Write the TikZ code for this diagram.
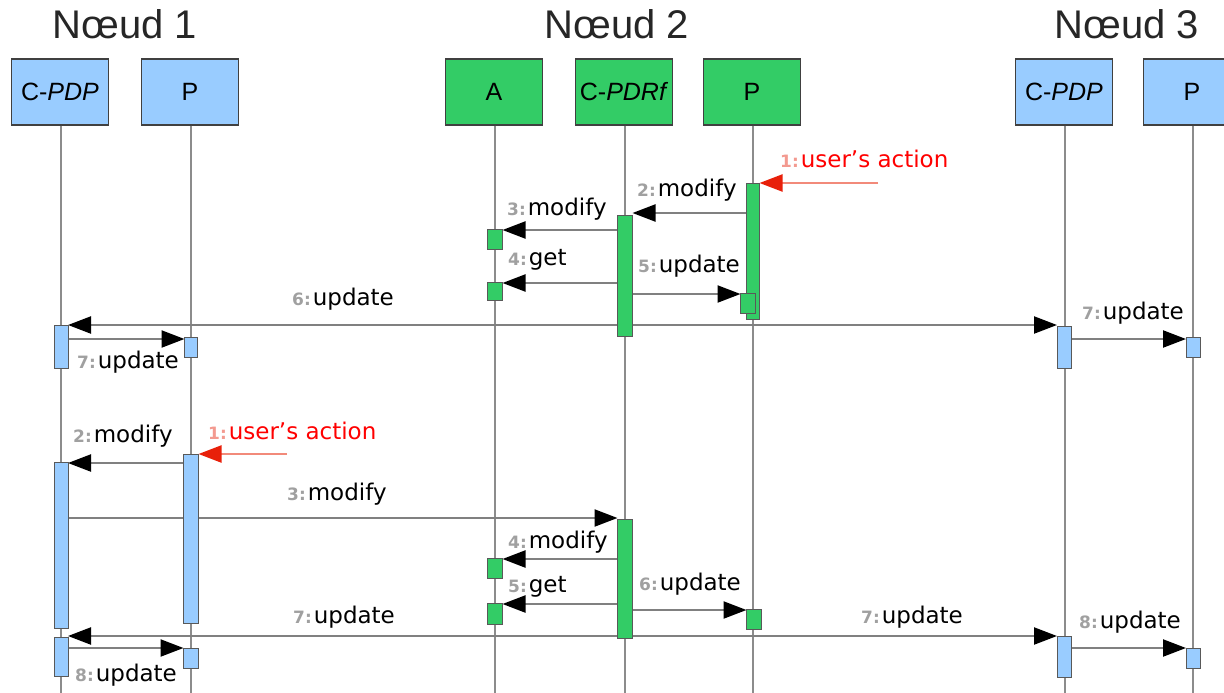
\documentclass[tikz,border=0pt]{standalone}
\usepackage{fontspec}
\setmainfont{DejaVu Sans}
\newfontfamily\arialf{Liberation Sans}
\usetikzlibrary{arrows.meta}
\definecolor{pblue}{HTML}{99CCFF}
\definecolor{pgreen}{HTML}{33CC66}
\definecolor{lline}{HTML}{8C8C8C}
\definecolor{mline}{HTML}{808080}
\definecolor{ured}{HTML}{E8200A}
\definecolor{ulred}{HTML}{F28A7A}
\definecolor{numgray}{HTML}{A0A0A0}
\definecolor{numred}{HTML}{F39A90}
\newcommand\msgnum[2][numgray]{{\fontsize{17}{17}\selectfont\bfseries\textcolor{#1}{#2}}\hspace{2pt}}
\begin{document}
\begin{tikzpicture}[x=1pt,y=-1pt,
  head/.style={draw=black!75, line width=1.3pt, minimum width=97pt, minimum height=66pt, inner sep=0pt, font=\arialf\fontsize{25}{25}\selectfont},
  bluehead/.style={head, fill=pblue},
  greenhead/.style={head, fill=pgreen},
  title/.style={font=\arialf\fontsize{40}{40}\selectfont, anchor=base, inner sep=0pt, text=black!85},
  life/.style={draw=lline, line width=2pt},
  bar/.style={draw=black!65, line width=1pt, minimum width=13pt, inner sep=0pt, anchor=north},
  bbar/.style={bar, fill=pblue},
  gbar/.style={bar, fill=pgreen},
  tip/.style={},
  msg/.style={draw=mline, line width=2.2pt, -{Triangle[length=23pt,width=17pt,color=black]}},
  bimsg/.style={draw=mline, line width=2.2pt, {Triangle[length=23pt,width=17pt,color=black]}-{Triangle[length=23pt,width=17pt,color=black]}},
  usermsg/.style={draw=ulred, line width=2.2pt, -{Triangle[length=23pt,width=17pt,color=ured]}},
  lab/.style={anchor=base west, inner sep=0pt, font=\fontsize{23}{23}\selectfont},
  ulab/.style={lab, text=red}
]
\useasboundingbox (0,0) rectangle (1224,693);
\coordinate (bottom) at (0,693);

% titles
\node[title] (t1) at (125,39) {Nœud 1};
\node[title] (t2) at (617,39) {Nœud 2};
\node[title] (t3) at (1127,39) {Nœud 3};

% heads
\node[bluehead] (h1) at (60,92) {C-\textit{PDP}};
\node[bluehead] (h2) at (190,92) {P};
\node[greenhead] (h3) at (494,92) {A};
\node[greenhead] (h4) at (624,92) {C-\textit{PDRf}};
\node[greenhead] (h5) at (752,92) {P};
\node[bluehead] (h6) at (1064,92) {C-\textit{PDP}};
\node[bluehead] (h7) at (1192,92) {P};

% lifelines
\foreach \h in {h1,h2,h3,h4,h5,h6,h7}
  \draw[life] ([xshift=1pt]\h.south) -- ([xshift=1pt]\h.south |- bottom);

% bars
\path
  node[gbar, minimum width=12pt, minimum height=135pt] (pA) at (753,183) {}
  node[gbar, minimum width=14pt, minimum height=120pt] (cA) at (625,215) {}
  node[gbar, minimum width=14pt, minimum height=19pt] (aA1) at (495,229) {}
  node[gbar, minimum width=14pt, minimum height=17pt] (aA2) at (495,282) {}
  node[gbar, minimum width=14pt, minimum height=19pt] (pA2) at (748,293) {}
  node[bbar, minimum height=42pt] (n1a) at (61,325) {}
  node[bbar, minimum width=12pt, minimum height=19pt] (n1p) at (191,337) {}
  node[bbar, minimum height=41pt] (n3a) at (1064,326) {}
  node[bbar, minimum height=19pt] (n3p) at (1193,337) {}
  node[bbar, minimum width=14pt, minimum height=168pt] (n1pB) at (191,454) {}
  node[bbar, minimum height=165pt] (n1aB) at (61,462) {}
  node[gbar, minimum width=14pt, minimum height=118pt] (cB) at (625,519) {}
  node[gbar, minimum width=14pt, minimum height=19pt] (aB1) at (495,558) {}
  node[gbar, minimum width=14pt, minimum height=20pt] (aB2) at (495,603) {}
  node[gbar, minimum width=14pt, minimum height=19pt] (pB) at (754,609) {}
  node[bbar, minimum height=38pt] (n1aC) at (61,637) {}
  node[bbar, minimum width=14pt, minimum height=19pt] (n1pC) at (191,648) {}
  node[bbar, minimum height=40pt] (n3aC) at (1064,636) {}
  node[bbar, minimum height=19pt] (n3pC) at (1193,648) {};

% message heights
\coordinate (ua) at (878,183);
\coordinate (m2) at (0,213);
\coordinate (m3) at (0,230);
\coordinate (m4) at (0,283);
\coordinate (m5) at (0,294);
\coordinate (m6) at (0,325);
\coordinate (m7) at (0,339);
\coordinate (ub) at (287,454);
\coordinate (b2) at (0,463);
\coordinate (b3) at (0,518);
\coordinate (b4) at (0,559);
\coordinate (b5) at (0,604);
\coordinate (b6) at (0,610);
\coordinate (b7) at (0,636);
\coordinate (b8) at (0,648);

% top messages
\draw[usermsg] (ua) -- (pA.north east);
\draw[msg] (pA.west |- m2) -- (cA.east |- m2);
\draw[msg] (cA.west |- m3) -- (aA1.east |- m3);
\draw[msg] (cA.west |- m4) -- (aA2.east |- m4);
\draw[msg] (cA.east |- m5) -- (pA2.west |- m5);
\draw[bimsg] (n1a.east |- m6) -- (n3a.west |- m6);
\draw[msg] (n1a.east |- m7) -- (n1p.west |- m7);
\draw[msg] (n3a.east |- m7) -- (n3p.west |- m7);

% bottom messages
\draw[usermsg] (ub) -- (n1pB.north east);
\draw[msg] (n1pB.west |- b2) -- (n1aB.east |- b2);
\draw[msg] (n1aB.east |- b3) -- (cB.west |- b3);
\draw[msg] (cB.west |- b4) -- (aB1.east |- b4);
\draw[msg] (cB.west |- b5) -- (aB2.east |- b5);
\draw[msg] (cB.east |- b6) -- (pB.west |- b6);
\draw[bimsg] (n1aC.east |- b7) -- (n3aC.west |- b7);
\draw[msg] (n1aC.east |- b8) -- (n1pC.west |- b8);
\draw[msg] (n3aC.east |- b8) -- (n3pC.west |- b8);

% draw bars on top
\foreach \b/\c in {pA/pgreen,cA/pgreen,aA1/pgreen,aA2/pgreen,pA2/pgreen,n1a/pblue,n1p/pblue,n3a/pblue,n3p/pblue,n1pB/pblue,n1aB/pblue,cB/pgreen,aB1/pgreen,aB2/pgreen,pB/pgreen,n1aC/pblue,n1pC/pblue,n3aC/pblue,n3pC/pblue}
  \draw[draw=black!65, line width=1pt, fill=\c] (\b.north west) rectangle (\b.south east);

% labels top
\node[ulab] (l1) at (780,167) {\msgnum[numred]{1:}user’s action};
\node[lab] (l2) at (637,196) {\msgnum{2:}modify};
\node[lab] (l3) at (507,215) {\msgnum{3:}modify};
\node[lab] (l4) at (508,265) {\msgnum{4:}get};
\node[lab] (l5) at (638,272) {\msgnum{5:}update};
\node[lab] (l6) at (292,305) {\msgnum{6:}update};
\node[lab] (l7a) at (77,368) {\msgnum{7:}update};
\node[lab] (l7b) at (1082,319) {\msgnum{7:}update};

% labels bottom
\node[ulab] (k1) at (208,439) {\msgnum[numred]{1:}user’s action};
\node[lab] (k2) at (73,442) {\msgnum{2:}modify};
\node[lab] (k3) at (287,500) {\msgnum{3:}modify};
\node[lab] (k4) at (508,548) {\msgnum{4:}modify};
\node[lab] (k5) at (508,592) {\msgnum{5:}get};
\node[lab] (k6) at (639,590) {\msgnum{6:}update};
\node[lab] (k7a) at (293,623) {\msgnum{7:}update};
\node[lab] (k7b) at (861,623) {\msgnum{7:}update};
\node[lab] (k8a) at (75,681) {\msgnum{8:}update};
\node[lab] (k8b) at (1079,628) {\msgnum{8:}update};
\end{tikzpicture}
\end{document}
